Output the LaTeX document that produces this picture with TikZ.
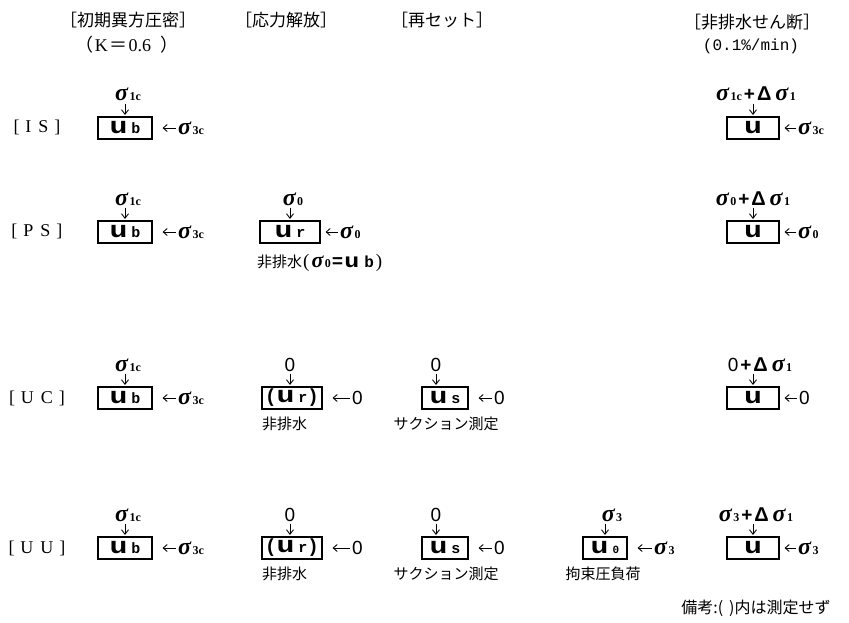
\documentclass[tikz,border=0pt]{standalone}
\usepackage{fontspec}
\setmainfont{Liberation Serif}
\newfontfamily\jp{Noto Sans CJK JP}
\newfontfamily\mono{Liberation Mono}
\newfontfamily\grk{Liberation Serif}
\newfontfamily\sans{Liberation Sans}
\usetikzlibrary{arrows.meta}
\newcommand\sg{{\fontsize{24}{24}\selectfont\grk\bfseries\itshape σ}}
\newcommand\dl{{\fontsize{20}{20}\selectfont\sans\bfseries Δ}}
\newcommand\pl{{\fontsize{19}{19}\selectfont\sans\bfseries +}}
\newcommand\zr{{\fontsize{19}{19}\selectfont\sans 0}}
\newcommand\sbs[1]{\kern1.5pt{\fontsize{12}{12}\selectfont\grk\bfseries #1}}
\newcommand\uch{\scalebox{1.3}[1]{\fontsize{23}{23}\selectfont\mono\bfseries u}}
\newcommand\uu[1]{\uch\kern4pt{\fontsize{15}{15}\selectfont\mono\bfseries #1}}
\newcommand\pa[1]{{\fontsize{19}{19}\selectfont\mono\bfseries #1}}
\newcommand\pn[1]{{\fontsize{19}{19}\selectfont\grk #1}}
\newcommand\dsg[1]{\kern2pt\pl\kern2pt\dl\kern4pt\sg\sbs{#1}}
\tikzset{
  box/.style={draw,line width=1.1pt,minimum width=54pt,minimum height=22pt,inner sep=0pt},
  lab/.style={inner sep=0pt,anchor=base,text depth=0pt},
  side/.style={inner sep=0pt,anchor=west},
  hdr/.style={font=\fontsize{17}{17}\selectfont\jp},
  note/.style={font=\fontsize{15}{15}\selectfont\jp,inner sep=1pt},
  row/.style={font=\fontsize{18}{18}\selectfont},
  arr/.style={-{Straight Barb[length=4.5pt,width=7pt]},line width=0.9pt,shorten >=1.5pt,shorten <=2.5pt},
  harr/.style={-{Straight Barb[length=4pt,width=7pt]},line width=0.9pt,shorten >=#1,shorten <=2pt},
  harr/.default=10pt
}
\begin{document}
\begin{tikzpicture}[x=1pt,y=-1pt]
\useasboundingbox (0,0) rectangle (849,623);
% headers
\node[hdr] (h1) at (128,20) {［初期異方圧密］};
\node[font=\fontsize{18}{18}\selectfont] (h1b) at (127,45) {{\jp （}\kern1pt K\kern2pt{\jp ＝}\kern1pt 0.6\ \ {\jp ）}};
\node[hdr] (h2) at (286,20) {［応力解放］};
\node[hdr] (h3) at (442,20) {［再セット］};
\node[hdr] (h5) at (752,22) {［非排水せん断］};
\node[font=\fontsize{16}{16}\selectfont\mono] (h5b) at (751,46) {(0.1\%/min)};
% row labels
\node[row] (rIS) at (37,127) {[\hspace{6pt}I\hspace{7pt}S\hspace{6pt}]};
\node[row] (rPS) at (37,231) {[\hspace{6pt}P\hspace{7pt}S\hspace{6pt}]};
\node[row] (rUC) at (37,398) {[\hspace{6pt}U\hspace{7pt}C\hspace{6pt}]};
\node[row] (rUU) at (37,548) {[\hspace{6pt}U\hspace{7pt}U\hspace{6pt}]};

% ---------- IS ----------
\node[box] (b11) at (125,128) {\uu{b}};
\node[lab] (t11) at (128,101) {\sg\sbs{1c}};
\draw[arr] (t11.south -| b11.north) -- (b11.north);
\node[side] (s11) at (178,128) {\sg\sbs{3c}};
\draw[harr] (s11.west) -- (b11.east);
\node[box,minimum width=52pt] (b15) at (753,128) {\uch};
\node[lab] (t15) at (756,101) {\sg\sbs{1c}\dsg{1}};
\draw[arr] (t15.south -| b15.north) -- (b15.north);
\node[side] (s15) at (798,128) {\sg\sbs{3c}};
\draw[harr=5pt] (s15.west) -- (b15.east);

% ---------- PS ----------
\node[box] (b21) at (125,232) {\uu{b}};
\node[lab] (t21) at (128,205) {\sg\sbs{1c}};
\draw[arr] (t21.south -| b21.north) -- (b21.north);
\node[side] (s21) at (178,232) {\sg\sbs{3c}};
\draw[harr] (s21.west) -- (b21.east);
\node[box,minimum width=60pt] (b22) at (290,232) {\uu{r}};
\node[lab] (t22) at (293,205) {\sg\sbs{0}};
\draw[arr] (t22.south -| b22.north) -- (b22.north);
\node[side] (s22) at (340,232) {\sg\sbs{0}};
\draw[harr=5pt] (s22.west) -- (b22.east);
\node[note,anchor=west] (n22) at (256,263) {非排水\kern1pt\pn{(}\kern2pt{\fontsize{22}{22}\selectfont\grk\bfseries\itshape σ}\sbs{0}\kern1pt\pa{=}\kern1pt\scalebox{1.25}[1]{\fontsize{20}{20}\selectfont\mono\bfseries u}\kern5pt{\fontsize{16}{16}\selectfont\mono\bfseries b}\kern2pt\pn{)}};
\node[box,minimum width=52pt] (b25) at (753,232) {\uch};
\node[lab] (t25) at (753,205) {\sg\sbs{0}\dsg{1}};
\draw[arr] (t25.south -| b25.north) -- (b25.north);
\node[side] (s25) at (798,232) {\sg\sbs{0}};
\draw[harr=5pt] (s25.west) -- (b25.east);

% ---------- UC ----------
\node[box] (b31) at (125,398) {\uu{b}};
\node[lab] (t31) at (128,371) {\sg\sbs{1c}};
\draw[arr] (t31.south -| b31.north) -- (b31.north);
\node[side] (s31) at (178,398) {\sg\sbs{3c}};
\draw[harr] (s31.west) -- (b31.east);
\node[box,minimum width=60pt] (b32) at (292,398) {\pa{(}\uu{r}\pa{)}};
\node[lab] (t32) at (290,371) {\zr};
\draw[arr] (t32.south) -- (t32.south |- b32.north);
\node[side] (s32) at (352,398) {\zr};
\draw[harr] (s32.west) -- (b32.east);
\node[note,anchor=west] (n32) at (261,424) {非排水};
\node[box,minimum width=46pt] (b33) at (445,398) {\uu{s}};
\node[lab] (t33) at (436,371) {\zr};
\draw[arr] (t33.south) -- (t33.south |- b33.north);
\node[side] (s33) at (494,398) {\zr};
\draw[harr] (s33.west) -- (b33.east);
\node[note] (n33) at (446,424) {サクション測定};
\node[box,minimum width=52pt] (b35) at (753,398) {\uch};
\node[lab] (t35) at (760,371) {\zr\dsg{1}};
\draw[arr] (t35.south -| b35.north) -- (b35.north);
\node[side] (s35) at (799,398) {\zr};
\draw[harr=5pt] (s35.west) -- (b35.east);

% ---------- UU ----------
\node[box] (b41) at (125,548) {\uu{b}};
\node[lab] (t41) at (128,521) {\sg\sbs{1c}};
\draw[arr] (t41.south -| b41.north) -- (b41.north);
\node[side] (s41) at (178,548) {\sg\sbs{3c}};
\draw[harr] (s41.west) -- (b41.east);
\node[box,minimum width=60pt] (b42) at (292,548) {\pa{(}\uu{r}\pa{)}};
\node[lab] (t42) at (290,521) {\zr};
\draw[arr] (t42.south) -- (t42.south |- b42.north);
\node[side] (s42) at (352,548) {\zr};
\draw[harr] (s42.west) -- (b42.east);
\node[note,anchor=west] (n42) at (261,574) {非排水};
\node[box,minimum width=46pt] (b43) at (445,548) {\uu{s}};
\node[lab] (t43) at (436,521) {\zr};
\draw[arr] (t43.south) -- (t43.south |- b43.north);
\node[side] (s43) at (494,548) {\zr};
\draw[harr] (s43.west) -- (b43.east);
\node[note] (n43) at (446,574) {サクション測定};
\node[box,minimum width=44pt] (b44) at (605,548) {\uu{\fontsize{11}{11}\selectfont 0}};
\node[lab] (t44) at (612,521) {\sg\sbs{3}};
\draw[arr] (t44.south -| b44.north) -- (b44.north);
\node[side] (s44) at (654,548) {\sg\sbs{3}};
\draw[harr] (s44.west) -- (b44.east);
\node[note] (n44) at (603,574) {拘束圧負荷};
\node[box,minimum width=52pt] (b45) at (753,548) {\uch};
\node[lab] (t45) at (756,521) {\sg\sbs{3}\dsg{1}};
\draw[arr] (t45.south -| b45.north) -- (b45.north);
\node[side] (s45) at (798,548) {\sg\sbs{3}};
\draw[harr=5pt] (s45.west) -- (b45.east);

% note
\node[note,font=\fontsize{16}{16}\selectfont\jp] (nb) at (756,608) {備考:(\kern6pt)内は測定せず};
\end{tikzpicture}
\end{document}
